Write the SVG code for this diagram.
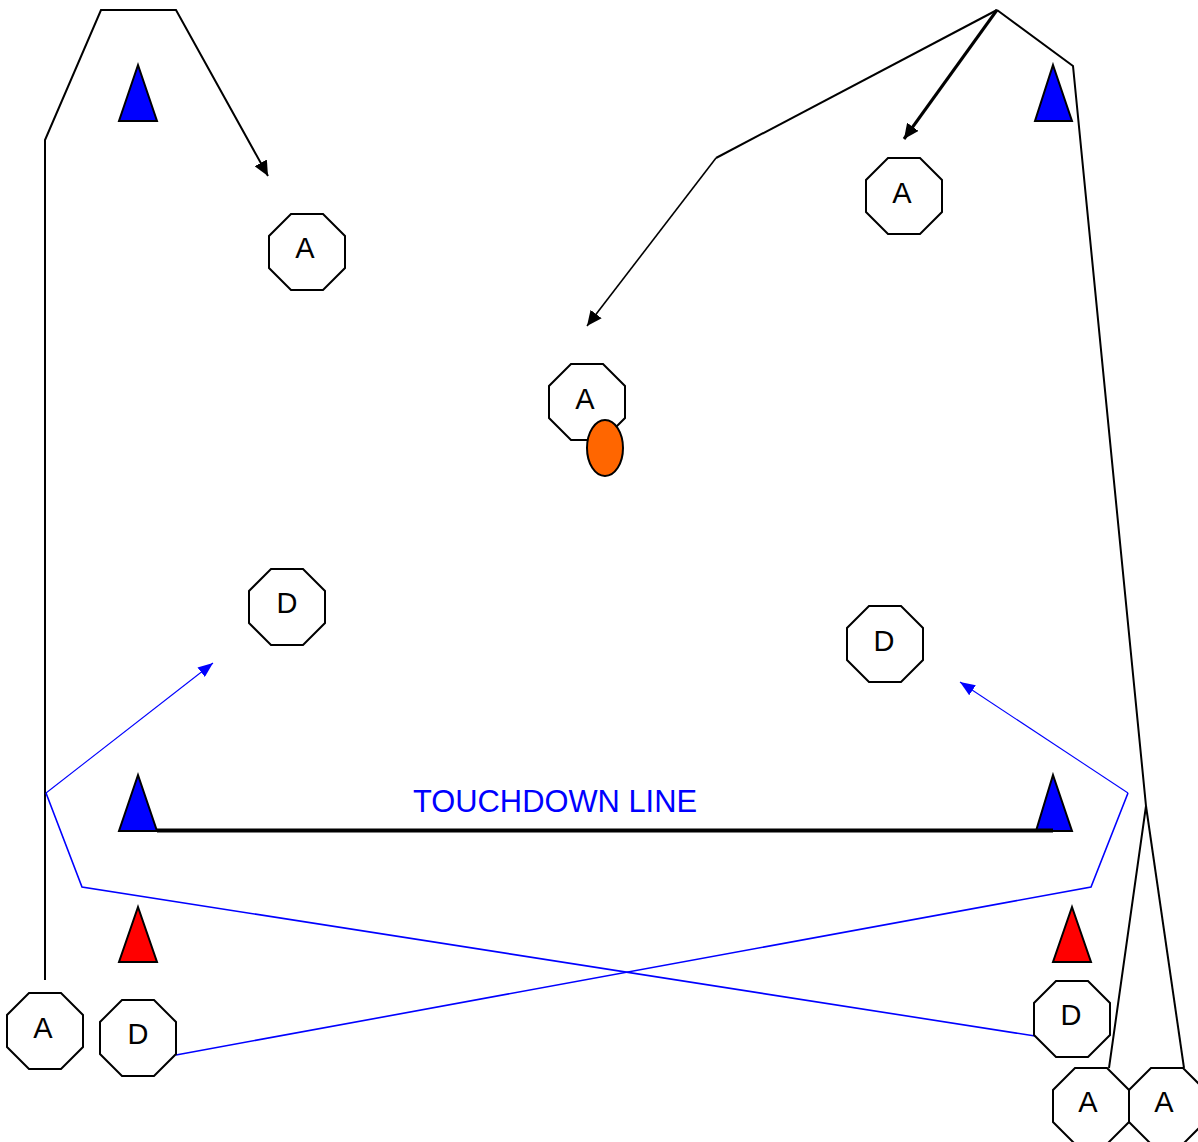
<svg xmlns="http://www.w3.org/2000/svg" xmlns:xlink="http://www.w3.org/1999/xlink" width="1198" height="1142" viewBox="0 0 1198 1142">
  <style>
    .player { fill: #ffffff; stroke: #000000; stroke-width: 2; }
    .label { font-family: "Liberation Sans", Arial, sans-serif; font-size: 29px; fill: #000000; text-anchor: middle; }
    .cone { stroke: #000000; stroke-width: 2; stroke-linejoin: miter; }
    .cone-blue { fill: #0000ff; }
    .cone-red { fill: #ff0000; }
    .run { fill: none; stroke: #000000; stroke-width: 2; stroke-linejoin: miter; }
    .pass { fill: none; stroke: #0000ff; stroke-width: 1.6; stroke-linejoin: miter; }
  </style>
  <defs>
    <polygon id="oct" points="-16,-38 16,-38 38,-16 38,16 16,38 -16,38 -38,16 -38,-16"/>
    <marker id="arrow-black" markerUnits="userSpaceOnUse" markerWidth="16" markerHeight="14" refX="15" refY="7" orient="auto">
      <path d="M0,0 L15,7 L0,14 z" fill="#000000"/>
    </marker>
    <marker id="arrow-blue" markerUnits="userSpaceOnUse" markerWidth="16" markerHeight="12" refX="15" refY="6" orient="auto">
      <path d="M0,0 L15,6 L0,12 z" fill="#0000ff"/>
    </marker>
  </defs>

  <rect x="0" y="0" width="1198" height="1142" fill="#ffffff"/>

  <!-- cones -->
  <g id="cones">
    <polygon class="cone cone-blue" points="138,65 157,121 119,121"/>
    <polygon class="cone cone-blue" points="1053,65 1072,121 1035,121"/>
    <polygon class="cone cone-blue" points="138,775 157,831 119,831"/>
    <polygon class="cone cone-blue" points="1053,775 1072,831 1036,831"/>
    <polygon class="cone cone-red" points="138,907 157,962 119,962"/>
    <polygon class="cone cone-red" points="1072,907 1091,962 1053,962"/>
  </g>

  <!-- goal line -->
  <g id="touchdown-line">
    <line x1="157" y1="830.5" x2="1053" y2="830.5" stroke="#000000" stroke-width="4"/>
    <text x="555" y="812" font-family="&quot;Liberation Sans&quot;, Arial, sans-serif" font-size="31" fill="#0000ff" text-anchor="middle" textLength="284" lengthAdjust="spacingAndGlyphs">TOUCHDOWN LINE</text>
  </g>

  <!-- routes and passes -->
  <g id="connectors">
    <polyline class="run" points="45,980 45,140 101,10 176,10 268,176" marker-end="url(#arrow-black)"/>
    <polyline class="run" points="997,10 716,158"/>
    <line x1="716" y1="158" x2="587" y2="326" stroke="#000000" stroke-width="1.6" marker-end="url(#arrow-black)"/>
    <line x1="997" y1="10" x2="904" y2="139" stroke="#000000" stroke-width="3" marker-end="url(#arrow-black)"/>
    <polyline class="run" points="997,10 1073,66 1146,806 1109,1068"/>
    <line class="run" x1="1146" y1="806" x2="1184" y2="1068"/>

    <polyline class="pass" points="176,1055 1091,887 1128,793"/>
    <line x1="1128" y1="793" x2="960" y2="682" stroke="#0000ff" stroke-width="1.1" marker-end="url(#arrow-blue)"/>
    <polyline class="pass" points="1035,1036 82,887 46,793"/>
    <line x1="46" y1="793" x2="213" y2="663" stroke="#0000ff" stroke-width="1.1" marker-end="url(#arrow-blue)"/>
  </g>

  <!-- attackers -->
  <g id="attacker-1">
    <use xlink:href="#oct" href="#oct" x="307" y="252" class="player"/>
    <text class="label" x="305" y="258">A</text>
  </g>
  <g id="attacker-2">
    <use xlink:href="#oct" href="#oct" x="904" y="196" class="player"/>
    <text class="label" x="902" y="203">A</text>
  </g>
  <g id="attacker-ball">
    <use xlink:href="#oct" href="#oct" x="587" y="402" class="player"/>
    <text class="label" x="585" y="409">A</text>
    <ellipse cx="605" cy="448" rx="18" ry="28" fill="#ff6600" stroke="#000000" stroke-width="2"/>
  </g>
  <g id="attacker-3">
    <use xlink:href="#oct" href="#oct" x="45" y="1031" class="player"/>
    <text class="label" x="43" y="1038">A</text>
  </g>
  <g id="attacker-4">
    <use xlink:href="#oct" href="#oct" x="1091" y="1106" class="player"/>
    <text class="label" x="1088" y="1112">A</text>
  </g>
  <g id="attacker-5">
    <use xlink:href="#oct" href="#oct" x="1167" y="1106" class="player"/>
    <text class="label" x="1164" y="1112">A</text>
  </g>

  <!-- defenders -->
  <g id="defender-1">
    <use xlink:href="#oct" href="#oct" x="287" y="607" class="player"/>
    <text class="label" x="287" y="613">D</text>
  </g>
  <g id="defender-2">
    <use xlink:href="#oct" href="#oct" x="885" y="644" class="player"/>
    <text class="label" x="884" y="651">D</text>
  </g>
  <g id="defender-3">
    <use xlink:href="#oct" href="#oct" x="138" y="1038" class="player"/>
    <text class="label" x="138" y="1044">D</text>
  </g>
  <g id="defender-4">
    <use xlink:href="#oct" href="#oct" x="1072" y="1019" class="player"/>
    <text class="label" x="1071" y="1025">D</text>
  </g>
</svg>
